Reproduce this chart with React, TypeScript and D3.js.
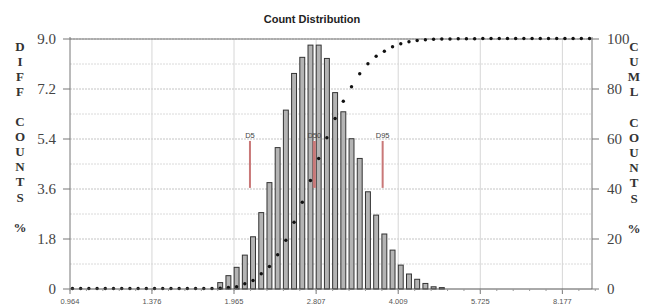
import React from 'react';
import * as d3 from 'd3';

// bin-by-bin values (64 log-spaced size bins, 0.964 .. ~9.3)
const diffCounts = [
  0, 0, 0, 0, 0, 0, 0, 0, 0, 0,
  0, 0, 0, 0, 0, 0, 0, 0, 0.23, 0.48,
  0.78, 1.22, 1.88, 2.75, 3.83, 5.09, 6.44, 7.76, 8.34, 8.78,
  8.78, 8.3, 7.07, 6.38, 5.41, 4.7, 3.5, 2.66, 1.98, 1.4,
  0.86, 0.54, 0.35, 0.2, 0.08, 0.05, 0, 0, 0, 0,
  0, 0, 0, 0, 0, 0, 0, 0, 0, 0,
  0, 0, 0, 0,
];
const cumlCounts = [
  0, 0, 0, 0, 0, 0, 0, 0, 0, 0,
  0, 0, 0, 0, 0, 0, 0, 0, 0.1, 0.4,
  0.7, 1.9, 3.2, 5.9, 8.8, 13.5, 19.3, 26.5, 34.5, 43.2,
  52, 60.3, 68, 74.9, 80.7, 85.9, 89.9, 92.9, 94.9, 96.7,
  97.9, 98.7, 99.2, 99.5, 99.7, 99.8, 99.8, 99.9, 99.9, 99.9,
  100, 100, 100, 100, 100, 100, 100, 100, 100, 100,
  100, 100, 100, 100,
];
const xTicks = [0.964, 1.376, 1.965, 2.807, 4.009, 5.725, 8.177];
const leftTicks = [0, 1.8, 3.6, 5.4, 7.2, 9.0];
const rightTicks = [0, 20, 40, 60, 80, 100];
const markers = [
  { label: 'D5', size: 2.106, width: 2 },
  { label: 'D50', size: 2.785, width: 3 },
  { label: 'D95', size: 3.747, width: 2 },
];
const leftTitle = ['D', 'I', 'F', 'F', '', 'C', 'O', 'U', 'N', 'T', 'S', '', '%'];
const rightTitle = ['C', 'U', 'M', 'L', '', 'C', 'O', 'U', 'N', 'T', 'S', '', '%'];

const W = 652;
const H = 308;
const margin = { left: 70, right: 60, top: 39, bottom: 19 };

export default function App() {
  const x = d3
    .scaleLog()
    .domain([0.964, 9.3])
    .range([margin.left, W - margin.right]);
  const bins = d3
    .scaleBand<number>()
    .domain(d3.range(diffCounts.length))
    .range([margin.left, W - margin.right])
    .paddingInner(0.4);
  const yL = d3.scaleLinear().domain([0, 9]).range([H - margin.bottom, margin.top]);
  const yR = d3.scaleLinear().domain([0, 100]).range([H - margin.bottom, margin.top]);
  const x0 = margin.left;
  const x1 = W - margin.right;
  const yBase = yL(0);
  const serif = '"Liberation Serif", "DejaVu Serif", serif';
  const sans = '"Liberation Sans", Arial, sans-serif';
  const minorY = d3.range(0.9, 9.01, 1.8);
  const step = bins.step();

  return (
    <svg
      width={W}
      height={H}
      style={{ position: 'absolute', left: 0, top: 0, background: '#fff' }}
    >
      <text
        x={312}
        y={23}
        textAnchor="middle"
        fontFamily={sans}
        fontWeight="bold"
        fontSize={11}
        fill="#222"
      >
        Count Distribution
      </text>

      {/* grid */}
      <g stroke="#c4c4c4" strokeWidth={1}>
        {leftTicks.slice(1).map((t) => (
          <line key={'g' + t} x1={x0} x2={x1} y1={yL(t)} y2={yL(t)} strokeDasharray="2,1" />
        ))}
        {minorY.map((t) => (
          <line key={'m' + t} x1={x0} x2={x1} y1={yL(t)} y2={yL(t)} stroke="#dadada" strokeDasharray="2,1" />
        ))}
        {xTicks.slice(1).map((t) => (
          <line key={'v' + t} x1={x(t)} x2={x(t)} y1={margin.top} y2={yBase} stroke="#d6d6d6" />
        ))}
      </g>
      <line x1={x0} x2={x1} y1={yL(9)} y2={yL(9)} stroke="#777" />

      {/* bars */}
      <g fill="#b4b4b4" stroke="#333" strokeWidth={1}>
        {diffCounts.map((v, i) =>
          v > 0 ? (
            <rect
              key={i}
              x={bins(i)!}
              y={yL(v)}
              width={bins.bandwidth()}
              height={yBase - yL(v)}
            />
          ) : null,
        )}
      </g>

      {/* markers */}
      {markers.map((m) => (
        <g key={m.label}>
          <line
            x1={x(m.size)}
            x2={x(m.size)}
            y1={yL(5.33)}
            y2={yL(3.64)}
            stroke="#c97878"
            strokeWidth={m.width}
          />
          <text
            x={x(m.size)}
            y={yL(5.33) - 3}
            textAnchor="middle"
            fontFamily={sans}
            fontSize={7.5}
            fill="#444"
          >
            {m.label}
          </text>
        </g>
      ))}

      {/* cumulative dots */}
      <g fill="#111">
        {cumlCounts.map((v, i) => (
          <circle key={i} cx={bins(i)! + bins.bandwidth() / 2} cy={yR(v) - 0.5} r={1.7} />
        ))}
      </g>

      {/* axes */}
      <g stroke="#777" strokeWidth={1}>
        <line x1={x0} x2={x0} y1={margin.top - 2} y2={yBase} />
        <line x1={x1} x2={x1} y1={margin.top - 2} y2={yBase} />
        <line x1={x0} x2={x1} y1={yBase} y2={yBase} stroke="#555" />
        {leftTicks.map((t) => (
          <line key={'lt' + t} x1={x0 - 7} x2={x0} y1={yL(t)} y2={yL(t)} />
        ))}
        {rightTicks.map((t) => (
          <line key={'rt' + t} x1={x1} x2={x1 + 7} y1={yR(t)} y2={yR(t)} />
        ))}
        {xTicks.map((t) => (
          <line key={'xt' + t} x1={x(t)} x2={x(t)} y1={yBase} y2={yBase + 5} />
        ))}
        {d3.range(0, diffCounts.length + 1, 2).map((i) => (
          <line key={'xm' + i} x1={x0 + i * step} x2={x0 + i * step} y1={yBase} y2={yBase + 2} stroke="#999" />
        ))}
      </g>
      <g fontFamily={serif} fontSize={15} fill="#444">
        {leftTicks.map((t) => (
          <text key={'ll' + t} x={56} y={yL(t)} dy="0.33em" textAnchor="end">
            {t === 0 ? '0' : t.toFixed(1)}
          </text>
        ))}
        {rightTicks.map((t) => (
          <text key={'rl' + t} x={607} y={yR(t)} dy="0.33em" textAnchor="start">
            {t}
          </text>
        ))}
      </g>
      <g fontFamily={sans} fontSize={7.5} fill="#555">
        {xTicks.map((t) => (
          <text key={'xl' + t} x={x(t)} y={304} textAnchor="middle">
            {t.toFixed(3)}
          </text>
        ))}
      </g>

      {/* axis titles */}
      <g fontFamily={serif} fontWeight="bold" fontSize={13} fill="#333" textAnchor="middle">
        {leftTitle.map((c, i) => (
          <text key={'a' + i} x={20} y={46 + i * 15.1} dy="0.35em">
            {c}
          </text>
        ))}
        {rightTitle.map((c, i) => (
          <text key={'b' + i} x={634} y={46 + i * 15.2} dy="0.35em">
            {c}
          </text>
        ))}
      </g>
    </svg>
  );
}
